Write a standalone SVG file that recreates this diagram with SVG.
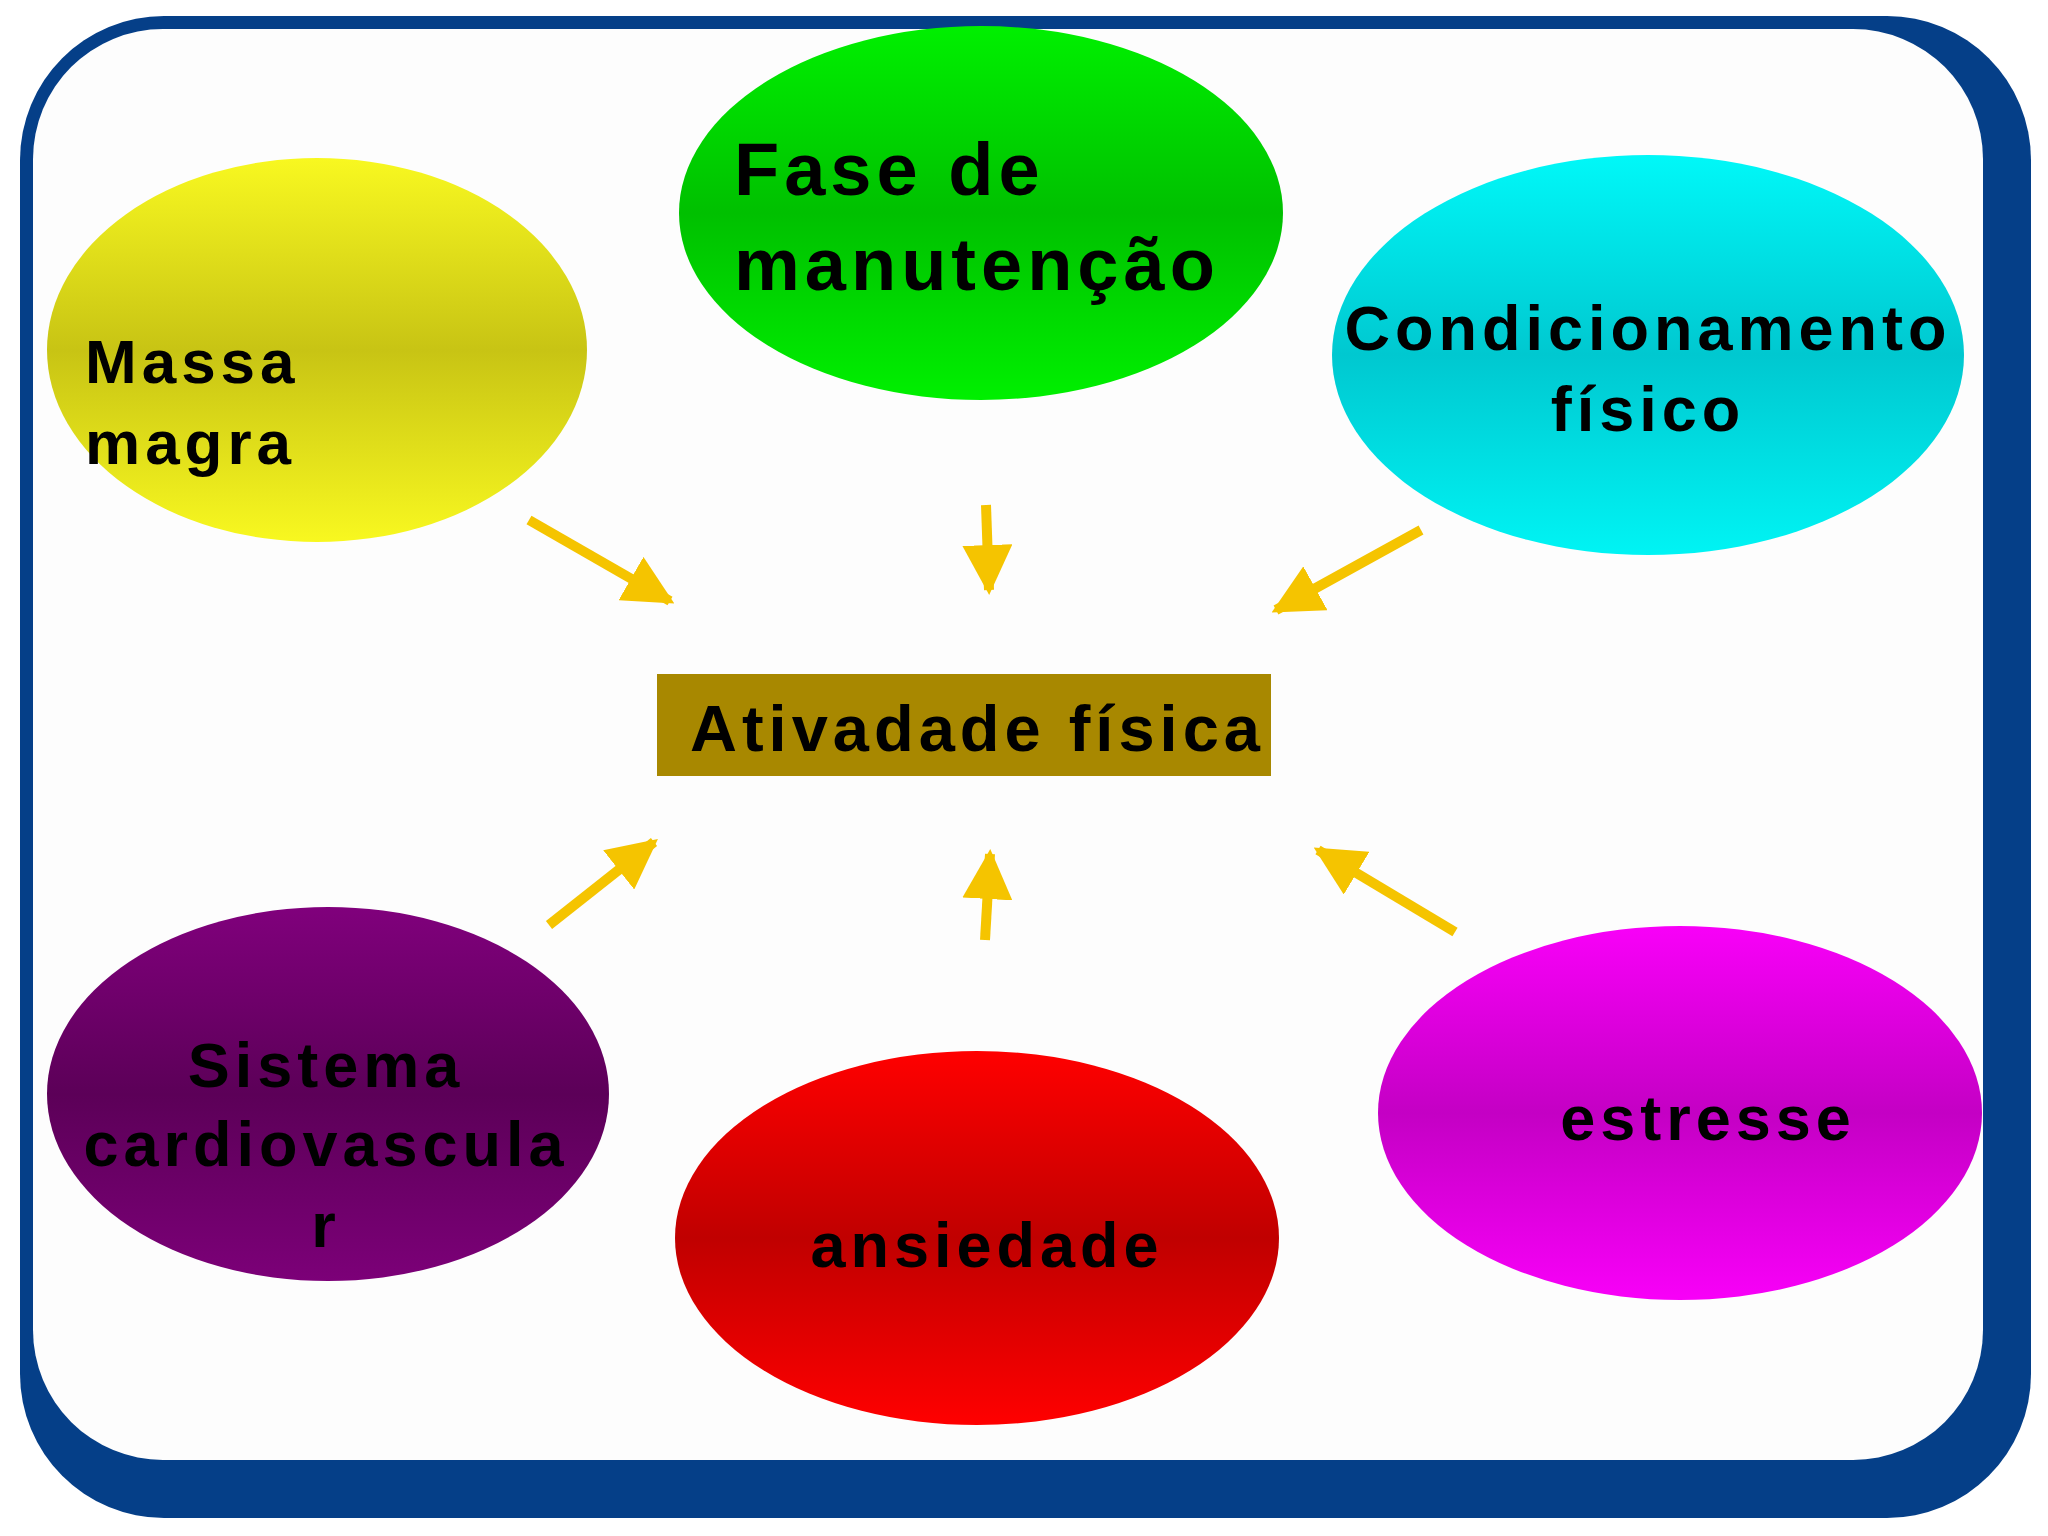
<svg xmlns="http://www.w3.org/2000/svg" width="2048" height="1536" viewBox="0 0 2048 1536">
<style>
text{font-family:"Liberation Sans",Arial,sans-serif;font-weight:bold;fill:#000;letter-spacing:5px}
.c{stroke:#f5c400;stroke-width:10;fill:none;marker-end:url(#ah)}
</style>
<defs>
<marker id="ah" markerUnits="userSpaceOnUse" markerWidth="50" markerHeight="50" viewBox="0 0 10 10" refX="9" refY="5" orient="auto"><path d="M0,0L10,5L0,10z" fill="#f5c400"/></marker>
<linearGradient id="gy" x1="0" y1="0" x2="0" y2="1"><stop offset="0" stop-color="#f8f820"/><stop offset="0.5" stop-color="#c8c414"/><stop offset="1" stop-color="#f8f820"/></linearGradient>
<linearGradient id="gg" x1="0" y1="0" x2="0" y2="1"><stop offset="0" stop-color="#00f000"/><stop offset="0.5" stop-color="#00c000"/><stop offset="1" stop-color="#00f000"/></linearGradient>
<linearGradient id="gc" x1="0" y1="0" x2="0" y2="1"><stop offset="0" stop-color="#00f8f8"/><stop offset="0.5" stop-color="#00c8d0"/><stop offset="1" stop-color="#00f4f4"/></linearGradient>
<linearGradient id="gp" x1="0" y1="0" x2="0" y2="1"><stop offset="0" stop-color="#80007c"/><stop offset="0.5" stop-color="#5c0058"/><stop offset="1" stop-color="#7c0078"/></linearGradient>
<linearGradient id="gr" x1="0" y1="0" x2="0" y2="1"><stop offset="0" stop-color="#ff0000"/><stop offset="0.5" stop-color="#c00000"/><stop offset="1" stop-color="#ff0000"/></linearGradient>
<linearGradient id="gm" x1="0" y1="0" x2="0" y2="1"><stop offset="0" stop-color="#f800f8"/><stop offset="0.5" stop-color="#c400c4"/><stop offset="1" stop-color="#f800f8"/></linearGradient>
</defs>
<rect width="2048" height="1536" fill="#fff"/>
<rect x="20" y="16" width="2011" height="1502" rx="144" fill="#053f88"/>
<rect x="33" y="29" width="1950" height="1431" rx="130" fill="#fdfdfd"/>
<g id="massa"><ellipse cx="317" cy="350" rx="270" ry="192" fill="url(#gy)"/><text x="85" y="383" font-size="62">Massa</text><text x="85" y="464" font-size="62">magra</text></g>
<g id="fase"><ellipse cx="981" cy="213" rx="302" ry="187" fill="url(#gg)"/><text x="734" y="195" font-size="74">Fase de</text><text x="734" y="290" font-size="74">manutenção</text></g>
<g id="cond"><ellipse cx="1648" cy="355" rx="316" ry="200" fill="url(#gc)"/><text x="1648" y="350" font-size="63" text-anchor="middle">Condicionamento</text><text x="1648" y="431" font-size="63" text-anchor="middle">físico</text></g>
<g id="sist"><ellipse cx="328" cy="1094" rx="281" ry="187" fill="url(#gp)"/><text x="326" y="1087" font-size="63" text-anchor="middle">Sistema</text><text x="326" y="1166" font-size="63" text-anchor="middle">cardiovascula</text><text x="326" y="1247" font-size="63" text-anchor="middle">r</text></g>
<g id="ans"><ellipse cx="977" cy="1238" rx="302" ry="187" fill="url(#gr)"/><text x="987" y="1267" font-size="63" text-anchor="middle">ansiedade</text></g>
<g id="est"><ellipse cx="1680" cy="1113" rx="302" ry="187" fill="url(#gm)"/><text x="1708" y="1140" font-size="63" text-anchor="middle">estresse</text></g>
<g id="ativ"><rect x="657" y="674" width="614" height="102" fill="#a88800"/><text x="690" y="751" font-size="65">Ativadade física</text></g>
<g id="connectors">
<line class="c" x1="529" y1="520" x2="670" y2="601"/>
<line class="c" x1="986" y1="505" x2="989" y2="590"/>
<line class="c" x1="1421" y1="530" x2="1276" y2="610"/>
<line class="c" x1="549" y1="925" x2="654" y2="842"/>
<line class="c" x1="985" y1="940" x2="990" y2="854"/>
<line class="c" x1="1455" y1="932" x2="1318" y2="850"/>
</g>
</svg>
